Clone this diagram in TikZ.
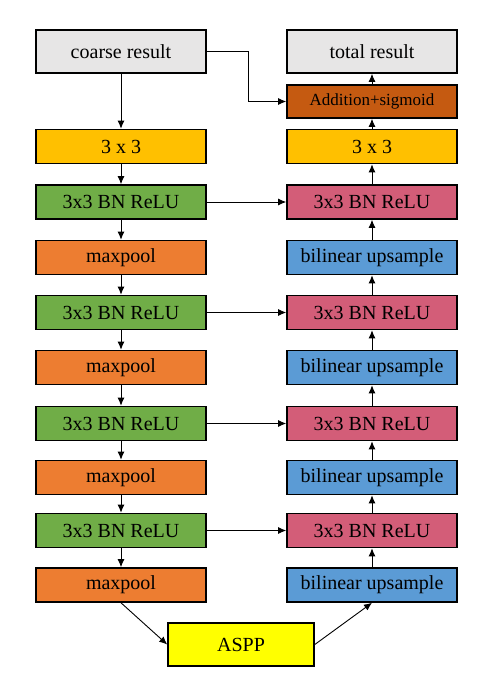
\documentclass[tikz,border=0pt]{standalone}
\usepackage{fontspec}
\setmainfont{Liberation Serif}
\usetikzlibrary{arrows.meta,positioning}

\definecolor{resgray}{HTML}{E7E6E6}
\definecolor{convyellow}{HTML}{FFC000}
\definecolor{encgreen}{HTML}{70AD47}
\definecolor{poolorange}{HTML}{ED7D31}
\definecolor{decpink}{HTML}{D35D78}
\definecolor{upblue}{HTML}{5B9BD5}
\definecolor{addorange}{HTML}{C55A11}
\definecolor{asppyellow}{HTML}{FFFF00}

\begin{document}
\begin{tikzpicture}[x=1pt, y=-1pt
        , box/.style={ draw, line width=1.6pt, minimum width=170pt, minimum height=34pt
                     , inner sep=0pt, font=\fontsize{20}{24}\selectfont }
        , arr/.style={ line width=0.9pt, -{Latex[length=8pt,width=7pt]} }
        ]
        \useasboundingbox (0,0) rectangle (485,681);

        % result boxes on top
        \node[box,fill=resgray,minimum height=43pt] (coarse) at (121,51.5) {coarse result};
        \node[box,fill=resgray,minimum height=43pt] (total) at (372,51.5) {total result};
        \node[box,fill=addorange,minimum height=33pt,font=\fontsize{17}{20}\selectfont] (add) at (372,101.5) {Addition+sigmoid};

        \node[box,fill=convyellow] (l1) at (121,146.5) {3 x 3};
        \node[box,fill=convyellow] (r1) at (372,146.5) {3 x 3};

        % encoder and decoder blocks
        \foreach \i/\y in {2/202,4/312.5,6/423.5,8/530.5} {
            \node[box,fill=encgreen] (l\i) at (121,\y) {3x3 BN ReLU};
            \node[box,fill=decpink] (r\i) at (372,\y) {3x3 BN ReLU};
        }
        \foreach \i/\y in {3/257.5,5/367.5,7/477.5,9/585} {
            \node[box,fill=poolorange] (l\i) at (121,\y) {maxpool};
            \node[box,fill=upblue] (r\i) at (372,\y) {bilinear upsample};
        }

        \node[box,fill=asppyellow,minimum width=146pt,minimum height=43pt] (aspp) at (241,644.5) {ASPP};

        % down the encoder, up the decoder
        \draw[arr] (coarse) -- (l1);
        \foreach \i [evaluate=\i as \j using int(\i+1)] in {1,...,8} {
            \draw[arr] (l\i) -- (l\j);
            \draw[arr] (r\j) -- (r\i);
        }
        \draw[arr] (r1) -- (add);
        \draw[arr] (add) -- (total);

        % skip connections
        \foreach \i in {2,4,6,8}
            \draw[arr] (l\i) -- (r\i);
        \draw[arr] (coarse.east) -- ++(42,0) |- (add.west);

        % bottleneck
        \draw[arr] (l9.south) -- (aspp.west);
        \draw[arr] (aspp.east) -- (r9.south);

\end{tikzpicture}
\end{document}
